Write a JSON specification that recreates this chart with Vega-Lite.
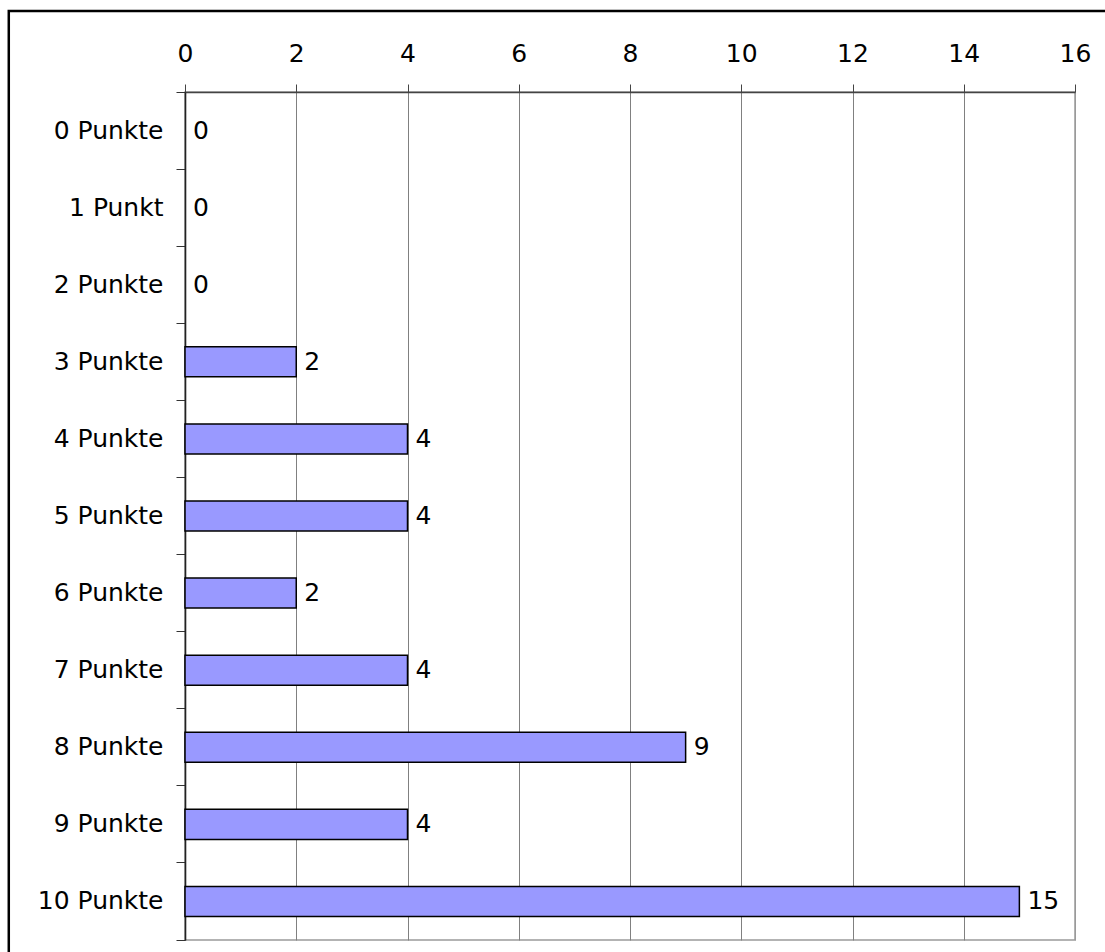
{
  "$schema": "https://vega.github.io/schema/vega-lite/v6.json",
  "autosize": {"type": "none"},
  "padding": {"left": 185, "top": 92, "right": 30, "bottom": 12},
  "width": 890,
  "height": 848,
  "background": "white",
  "config": {
    "font": "DejaVu Sans",
    "view": {"stroke": "#9a9a9a", "strokeWidth": 1.5}
  },
  "data": {
    "values": [
      {"label": "0 Punkte", "count": 0},
      {"label": "1 Punkt", "count": 0},
      {"label": "2 Punkte", "count": 0},
      {"label": "3 Punkte", "count": 2},
      {"label": "4 Punkte", "count": 4},
      {"label": "5 Punkte", "count": 4},
      {"label": "6 Punkte", "count": 2},
      {"label": "7 Punkte", "count": 4},
      {"label": "8 Punkte", "count": 9},
      {"label": "9 Punkte", "count": 4},
      {"label": "10 Punkte", "count": 15}
    ]
  },
  "layer": [
    {
      "data": {"values": [{}]},
      "mark": {"type": "rect", "filled": false, "stroke": "black", "strokeWidth": 2.5},
      "encoding": {
        "x": {"datum": -0.198, "type": "quantitative", "scale": {"domain": [0, 1], "nice": false, "zero": false}, "axis": null},
        "x2": {"datum": 1.2},
        "y": {"datum": 1.0955, "type": "quantitative", "scale": {"domain": [0, 1], "nice": false, "zero": false}, "axis": null},
        "y2": {"datum": -0.1}
      }
    },
    {
      "encoding": {
        "y": {
          "field": "label",
          "type": "nominal",
          "sort": null,
          "scale": {"paddingInner": 0, "paddingOuter": 0},
          "axis": {
            "title": null,
            "bandPosition": 1,
            "tickExtra": true,
            "tickSize": 9,
            "tickColor": "#333333",
            "tickWidth": 1,
            "domainColor": "#222222",
            "domainWidth": 1.6,
            "labelFontSize": 25,
            "labelColor": "black",
            "labelPadding": 13,
            "grid": false
          }
        }
      },
      "layer": [
        {
          "mark": {"type": "bar", "fill": "#9999ff", "stroke": "black", "strokeWidth": 1.5, "height": {"band": 0.39}},
          "encoding": {
            "x": {
              "field": "count",
              "type": "quantitative",
              "scale": {"domain": [0, 16], "nice": false},
              "axis": {
                "orient": "top",
                "title": null,
                "values": [0, 2, 4, 6, 8, 10, 12, 14, 16],
                "format": "d",
                "tickSize": 8,
                "tickColor": "#444444",
                "domainColor": "#444444",
                "domainWidth": 1.3,
                "labelFontSize": 25,
                "labelColor": "black",
                "labelPadding": 18,
                "labelFlush": false,
                "grid": true,
                "gridColor": {"condition": {"test": "datum.value == 16", "value": "#9a9a9a"}, "value": "#808080"},
                "gridWidth": 1
              }
            },
            "strokeOpacity": {"condition": {"test": "datum.count == 0", "value": 0}, "value": 1}
          }
        },
        {
          "mark": {"type": "text", "align": "left", "baseline": "middle", "dx": 8, "fontSize": 25, "color": "black"},
          "encoding": {
            "x": {"field": "count", "type": "quantitative"},
            "text": {"field": "count", "type": "quantitative"}
          }
        }
      ]
    }
  ],
  "resolve": {"scale": {"x": "independent", "y": "independent"}}
}
